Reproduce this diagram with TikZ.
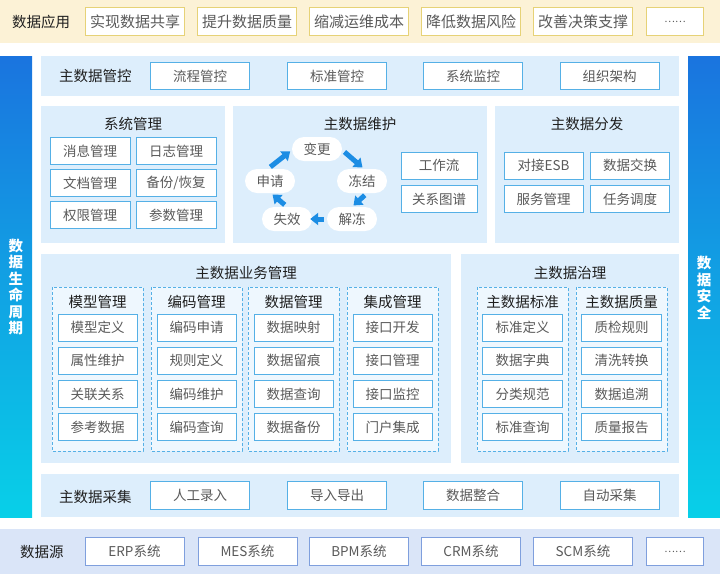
\documentclass[tikz,border=0pt]{standalone}
\usepackage{fontspec}
\setmainfont{Noto Sans CJK SC}
\usepackage{xcolor}
\usepackage{tikz}
\usetikzlibrary{arrows.meta,calc,positioning}
\definecolor{appband}{HTML}{FCF2D6}
\definecolor{appline}{HTML}{E6D277}
\definecolor{panel}{HTML}{DDEEFC}
\definecolor{subpanel}{HTML}{EEF7FE}
\definecolor{boxline}{HTML}{55B0E6}
\definecolor{srcband}{HTML}{DAE5F8}
\definecolor{srcline}{HTML}{7F9FDD}
\definecolor{bartop}{HTML}{1A74DF}
\definecolor{barbot}{HTML}{08D0E8}
\definecolor{cycarrow}{HTML}{1C8DE4}
\definecolor{boxtext}{HTML}{5A5A5A}
\definecolor{headtext}{HTML}{1F1F1F}

\begin{document}
\begin{tikzpicture}[x=1pt,y=-1pt,
    every node/.style={inner sep=0pt},
    head/.style={text=headtext,font=\fontsize{14.5}{16}\selectfont},
    item/.style={draw=boxline,fill=white,line width=0.8pt,text=boxtext,font=\fontsize{13.5}{16}\selectfont,minimum width=79pt,minimum height=27pt},
    wide/.style={item,minimum width=99pt,minimum height=27.5pt},
    appitem/.style={wide,draw=appline,font=\fontsize{15}{16}\selectfont},
    srcitem/.style={wide,draw=srcline},
    dots/.style={font=\fontsize{10}{12}\selectfont,minimum width=57pt},
    pill/.style={fill=white,rounded corners=12pt,minimum width=50pt,minimum height=24pt,text=boxtext,font=\fontsize{13.5}{16}\selectfont},
    cyc/.style={draw=cycarrow,line width=5pt,-{Triangle[width=12pt,length=8pt]},shorten <=3pt,shorten >=2pt},
    side/.style={text=white,font=\bfseries\fontsize{14.5}{16.5}\selectfont,align=center},
    group/.style={draw=boxline,fill=subpanel,dash pattern=on 3pt off 2pt,line width=0.7pt}]
  \useasboundingbox (0,0) rectangle (720,574);

  \fill[appband] (0,0) rectangle (720,43);
  \node[head,anchor=west] (app) at (12,21.5) {数据应用};
  \foreach \t [count=\i] in {实现数据共享,提升数据质量,缩减运维成本,降低数据风险,改善决策支撑}
    \node[appitem] (app\i) at ({23+112*\i},21.5) {\t};
  \node[appitem,dots] (app6) at (675,21.5) {……};

  \shade[top color=bartop,bottom color=barbot] (0,56) rectangle (32,517);
  \node[side] (life) at (16,287) {数\\据\\生\\命\\周\\期};
  \shade[top color=bartop,bottom color=barbot] (688,56) rectangle (720,517);
  \node[side] (safe) at (704,288) {数\\据\\安\\全};

  \fill[panel] (41,56) rectangle (679,96);
  \node[head,anchor=west] (ctrl) at (59,76) {主数据管控};
  \foreach \t/\x [count=\i] in {流程管控/200,标准管控/337,系统监控/473,组织架构/609.5}
    \node[wide] (ctrl\i) at (\x,76) {\t};

  \fill[panel] (41,106) rectangle (225,243);
  \node[head] (sys) at (133,124) {系统管理};
  \foreach \a/\b/\y [count=\i] in {消息管理/日志管理/151,文档管理/{备份/恢复}/183,权限管理/参数管理/215} {
    \node[item,minimum width=80pt] (sys\i-1) at (90,\y) {\a};
    \node[item,minimum width=80pt] (sys\i-2) at (176,\y) {\b};
  }

  \fill[panel] (233,106) rectangle (487,243);
  \node[head] (mnt) at (360,124) {主数据维护};
  \node[pill] (bg) at (317,149) {变更};
  \node[pill] (dj) at (362,181) {冻结};
  \node[pill] (jd) at (352,219) {解冻};
  \node[pill] (sx) at (287,219) {失效};
  \node[pill] (sq) at (270,181) {申请};
  \draw[cyc] ([xshift=-2pt]sq.north) -- ([yshift=-1pt]bg.west);
  \draw[cyc] ([yshift=-1pt]bg.east) -- ([xshift=2pt]dj.north);
  \draw[cyc] ([xshift=5pt]dj.south) -- (jd.north);
  \draw[cyc,shorten >=-2pt] (jd.west) -- (sx.east);
  \draw[cyc] (sx.north) -- ([xshift=1pt]sq.south);
  \node[item,minimum width=76pt] (flow) at (439,165.5) {工作流};
  \node[item,minimum width=76pt] (graph) at (439,199) {关系图谱};

  \fill[panel] (495,106) rectangle (679,243);
  \node[head] (dist) at (587,124) {主数据分发};
  \node[item] (dist1) at (543.5,165.5) {对接ESB};
  \node[item] (dist2) at (630,165.5) {数据交换};
  \node[item] (dist3) at (543.5,199) {服务管理};
  \node[item] (dist4) at (630,199) {任务调度};

  \fill[panel] (41,254) rectangle (451,463);
  \node[head] (biz) at (246,273) {主数据业务管理};
  \foreach \x/\t/\a/\b/\c/\d [count=\i] in {97.5/模型管理/模型定义/属性维护/关联关系/参考数据,
      196.5/编码管理/编码申请/规则定义/编码维护/编码查询,
      293.5/数据管理/数据映射/数据留痕/数据查询/数据备份,
      392.5/集成管理/接口开发/接口管理/接口监控/门户集成} {
    \path[group] (\x-45.5,287) rectangle (\x+45.5,451);
    \node[head] (biz\i) at (\x,302) {\t};
    \node[item] (biz\i-1) at (\x,327.5) {\a};
    \node[item] (biz\i-2) at (\x,360.5) {\b};
    \node[item] (biz\i-3) at (\x,394) {\c};
    \node[item] (biz\i-4) at (\x,427) {\d};
  }

  \fill[panel] (461,254) rectangle (679,463);
  \node[head] (gov) at (570,273) {主数据治理};
  \foreach \x/\t/\a/\b/\c/\d [count=\i] in {522.5/主数据标准/标准定义/数据字典/分类规范/标准查询,
      621.5/主数据质量/质检规则/清洗转换/数据追溯/质量报告} {
    \path[group] (\x-45.5,287) rectangle (\x+45.5,451);
    \node[head] (gov\i) at (\x,302) {\t};
    \node[item,minimum width=80pt] (gov\i-1) at (\x,327.5) {\a};
    \node[item,minimum width=80pt] (gov\i-2) at (\x,360.5) {\b};
    \node[item,minimum width=80pt] (gov\i-3) at (\x,394) {\c};
    \node[item,minimum width=80pt] (gov\i-4) at (\x,427) {\d};
  }

  \fill[panel] (41,474) rectangle (679,517);
  \node[head,anchor=west] (col) at (59,497) {主数据采集};
  \foreach \t/\x [count=\i] in {人工录入/200,导入导出/337,数据整合/473,自动采集/609.5}
    \node[wide] (col\i) at (\x,495.5) {\t};

  \fill[srcband] (0,529) rectangle (720,574);
  \node[head,anchor=west] (src) at (20,552) {数据源};
  \foreach \t/\x [count=\i] in {ERP系统/134.5,MES系统/247.5,BPM系统/359,CRM系统/471,SCM系统/583}
    \node[srcitem] (src\i) at (\x,551.5) {\t};
  \node[srcitem,dots] (src6) at (675,551.5) {……};
\end{tikzpicture}
\end{document}
